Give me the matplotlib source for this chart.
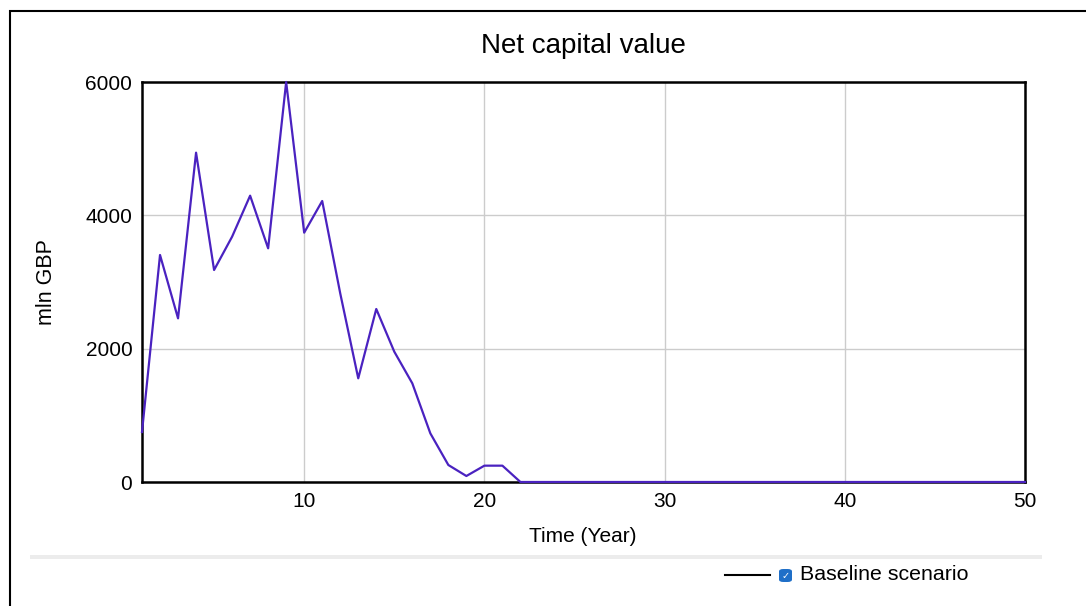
import matplotlib
matplotlib.use("Agg")
import matplotlib.pyplot as plt
from matplotlib.patches import Rectangle, FancyBboxPatch
from matplotlib.lines import Line2D

plt.rcParams['font.family'] = ['Liberation Sans', 'DejaVu Sans']

# data (mln GBP per year)
years = list(range(1, 51))
early_values = [750, 3405, 2455, 4940, 3180, 3680, 4295, 3505, 6000, 3740,
                4215, 2830, 1555, 2595, 1955, 1480, 730, 255, 90, 245,
                245, 0]
net_capital = early_values + [0] * (len(years) - len(early_values))

x_ticks = [10, 20, 30, 40, 50]
y_ticks = [0, 2000, 4000, 6000]
series_name = 'Baseline scenario'

W, H = 1086, 606
fig = plt.figure(figsize=(W / 100, H / 100), dpi=100, facecolor='white')

# outer frame
fig.add_artist(Rectangle((10 / W, 0 - 0.01), 1.02, (H - 11) / H + 0.01,
                         transform=fig.transFigure, fill=False,
                         edgecolor='black', lw=1.5))

ax = fig.add_axes([142 / W, 1 - 482 / H, 883 / W, 400 / H])
ax.plot(years, net_capital, color='#4a22c0', lw=1.6, clip_on=False, zorder=3)
ax.set_xlim(1, 50)
ax.set_ylim(0, 6000)
ax.set_xticks(x_ticks)
ax.set_yticks(y_ticks)
ax.grid(True, color='#cccccc', lw=1)
ax.tick_params(length=0, labelsize=15, pad=7)
for s in ax.spines.values():
    s.set_linewidth(1.8)
    s.set_color('black')

fig.text(583 / W, 1 - 46 / H, 'Net capital value', ha='center', va='center', fontsize=20)
fig.text(583 / W, 1 - 537 / H, 'Time (Year)', ha='center', va='center', fontsize=15)
fig.text(46 / W, 1 - 282 / H, 'mln GBP', ha='center', va='center', rotation=90, fontsize=15.5)

# separator bar above the legend
fig.add_artist(Rectangle((30 / W, 1 - 559 / H), 1012 / W, 4 / H,
                         transform=fig.transFigure, color='#ececec', lw=0))

# legend: line, checkbox, label
fig.add_artist(Line2D([725 / W, 770 / W], [1 - 575 / H, 1 - 575 / H],
                      transform=fig.transFigure, color='black', lw=1.5))
fig.add_artist(FancyBboxPatch((779 / W, 1 - 582 / H), 13 / W, 13 / H,
                              boxstyle='round,pad=0,rounding_size=0.004',
                              transform=fig.transFigure, color='#1f6fc8', lw=0))
fig.text(785.5 / W, 1 - 575.5 / H, '\u2713', ha='center', va='center',
         fontsize=7, color='white', family=['DejaVu Sans'])
fig.text(800 / W, 1 - 575 / H, series_name, ha='left', va='center', fontsize=15.4)

fig.savefig('out.png', dpi=100, facecolor='white')
